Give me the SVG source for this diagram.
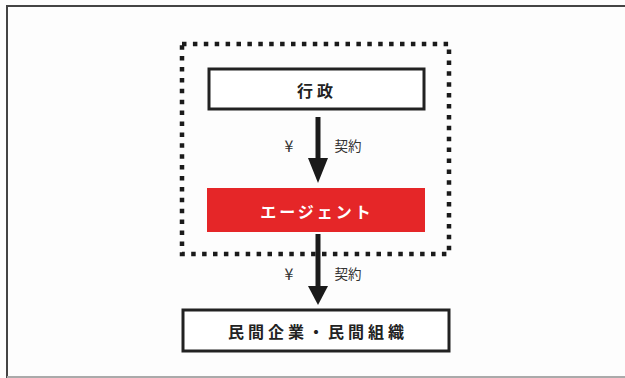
<svg xmlns="http://www.w3.org/2000/svg" width="625" height="378" viewBox="0 0 625 378">
<style>
.lbl{font-family:"Noto Sans CJK JP","Noto Sans",sans-serif;font-weight:bold;font-size:16px;text-anchor:middle;dominant-baseline:central;fill:#222}
.sm{font-family:"Noto Sans CJK JP","Noto Sans",sans-serif;font-size:13.5px;text-anchor:middle;dominant-baseline:central;fill:#333}
.yen{font-family:"Noto Sans CJK JP","Noto Sans",sans-serif;font-size:16px;text-anchor:middle;dominant-baseline:central;fill:#333}
.box{fill:#fff;stroke:#222;stroke-width:3}
.arr{stroke:#1a1a1a;stroke-width:5;fill:none}
</style>
<rect x="0" y="0" width="625" height="378" fill="#fdfdfd"/>
<g id="frame">
<line x1="6" y1="6" x2="625" y2="6" stroke="#444" stroke-width="2"/>
<line x1="7" y1="5" x2="7" y2="378" stroke="#444" stroke-width="2"/>
<line x1="7" y1="377" x2="625" y2="377" stroke="#aaa" stroke-width="2"/>
</g>
<g id="group-boundary">
<rect x="182" y="44" width="267" height="210" fill="none" stroke="#1a1a1a" stroke-width="4.5" stroke-dasharray="4.5 6.4"/>
</g>
<g id="connectors">
<line class="arr" x1="318" y1="117" x2="318" y2="160"/>
<path d="M308,158 L328,158 L318,183 Z" fill="#1a1a1a"/>
<line class="arr" x1="318" y1="234" x2="318" y2="288"/>
<path d="M308,286 L328,286 L318,305 Z" fill="#1a1a1a"/>
<text class="yen" x="289" y="145">¥</text>
<text class="sm" x="348" y="145">契約</text>
<text class="yen" x="289" y="273">¥</text>
<text class="sm" x="348" y="273">契約</text>
</g>
<g id="gyosei">
<rect class="box" x="209" y="69" width="215" height="40"/>
<text class="lbl" x="317" y="90" letter-spacing="4">行政</text>
</g>
<g id="agent">
<rect x="207" y="188" width="218" height="44" fill="#e52628"/>
<text class="lbl" x="317" y="211" style="fill:#fff" letter-spacing="3">エージェント</text>
</g>
<g id="minkan">
<rect class="box" x="183" y="310" width="266" height="41"/>
<text class="lbl" x="318" y="331" letter-spacing="4">民間企業・民間組織</text>
</g>
</svg>
